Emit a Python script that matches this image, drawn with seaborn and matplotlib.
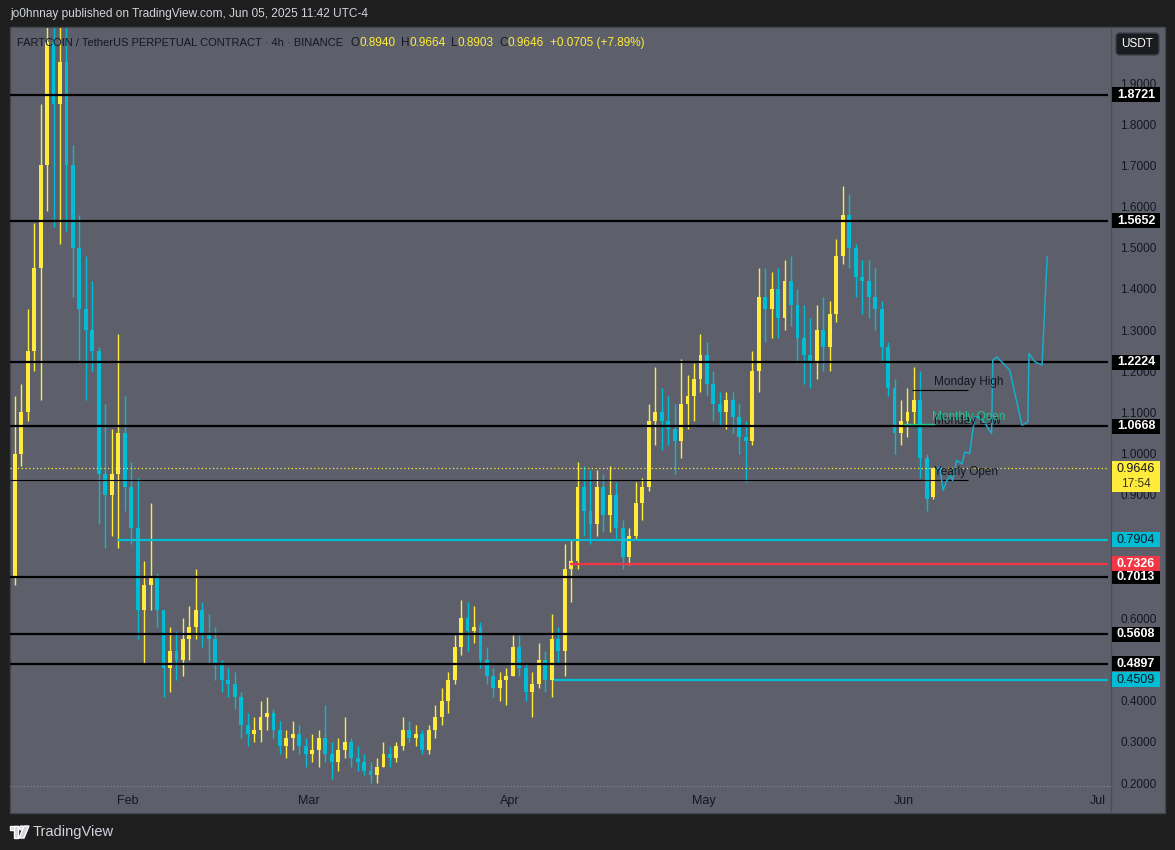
import numpy as np
import pandas as pd
import matplotlib
matplotlib.use("Agg")
import matplotlib.pyplot as plt
import matplotlib.dates as mdates
from matplotlib.patches import Rectangle, FancyBboxPatch, Circle, Polygon
import seaborn as sns

# daily candles, starting 2025-01-14
start = "2025-01-14"
opens = [
    0.70, 1.00, 1.10, 1.25, 1.45, 1.70, 2.00, 1.85, 1.95, 1.70,
    1.50, 1.35, 1.30, 1.25, 0.95, 0.90, 0.95, 1.05, 0.92, 0.82,
    0.62, 0.68, 0.70, 0.62, 0.48, 0.52, 0.50, 0.55, 0.58, 0.62,
    0.56, 0.55, 0.49, 0.45, 0.44, 0.41, 0.34, 0.32, 0.33, 0.36,
    0.37, 0.33, 0.29, 0.31, 0.32, 0.29, 0.27, 0.28, 0.31, 0.27,
    0.25, 0.28, 0.30, 0.26, 0.25, 0.23, 0.22, 0.24, 0.27, 0.26,
    0.29, 0.33, 0.31, 0.32, 0.28, 0.33, 0.36, 0.40, 0.45, 0.53,
    0.60, 0.57, 0.58, 0.50, 0.46, 0.43, 0.45, 0.46, 0.53, 0.48,
    0.42, 0.44, 0.50, 0.45, 0.55, 0.52, 0.72, 0.74, 0.92, 0.86,
    0.83, 0.92, 0.85, 0.90, 0.82, 0.75, 0.80, 0.88, 0.92, 1.08,
    1.10, 1.08, 1.06, 1.03, 1.12, 1.14, 1.18, 1.24, 1.17, 1.12,
    1.10, 1.13, 1.09, 1.04, 1.03, 1.20, 1.38, 1.35, 1.40, 1.33,
    1.42, 1.36, 1.28, 1.24, 1.22, 1.30, 1.26, 1.34, 1.48, 1.58,
    1.50, 1.43, 1.42, 1.38, 1.35, 1.26, 1.16, 1.05, 1.08, 1.10,
    1.13, 0.99, 0.894,
]
highs = [
    1.14, 1.17, 1.35, 1.56, 1.85, 2.30, 2.45, 2.20, 2.10, 1.75,
    1.58, 1.48, 1.42, 1.26, 1.12, 1.06, 1.29, 1.14, 0.98, 0.94,
    0.74, 0.88, 0.71, 0.62, 0.58, 0.57, 0.60, 0.63, 0.72, 0.64,
    0.61, 0.58, 0.50, 0.48, 0.47, 0.42, 0.37, 0.36, 0.40, 0.41,
    0.38, 0.35, 0.33, 0.35, 0.34, 0.31, 0.32, 0.33, 0.39, 0.30,
    0.31, 0.36, 0.31, 0.29, 0.27, 0.25, 0.26, 0.30, 0.29, 0.30,
    0.36, 0.35, 0.34, 0.33, 0.34, 0.39, 0.43, 0.47, 0.56, 0.645,
    0.64, 0.63, 0.59, 0.53, 0.48, 0.47, 0.48, 0.56, 0.56, 0.49,
    0.47, 0.54, 0.52, 0.61, 0.58, 0.78, 0.79, 0.98, 0.97, 0.96,
    0.96, 0.95, 0.97, 0.93, 0.84, 0.82, 0.93, 0.94, 1.12, 1.21,
    1.16, 1.14, 1.12, 1.23, 1.19, 1.22, 1.29, 1.27, 1.20, 1.15,
    1.15, 1.15, 1.12, 1.08, 1.25, 1.45, 1.45, 1.44, 1.45, 1.47,
    1.48, 1.40, 1.36, 1.33, 1.36, 1.38, 1.37, 1.52, 1.65, 1.63,
    1.51, 1.47, 1.47, 1.45, 1.37, 1.27, 1.18, 1.13, 1.16, 1.21,
    1.20, 1.00, 0.9664,
]
lows = [
    0.68, 0.97, 1.08, 1.20, 1.13, 1.59, 1.55, 1.51, 1.54, 1.38,
    1.22, 1.13, 1.20, 0.83, 0.77, 0.80, 0.77, 0.86, 0.78, 0.55,
    0.49, 0.62, 0.58, 0.41, 0.42, 0.45, 0.46, 0.50, 0.55, 0.53,
    0.49, 0.45, 0.42, 0.41, 0.38, 0.31, 0.29, 0.30, 0.30, 0.33,
    0.31, 0.27, 0.26, 0.28, 0.27, 0.24, 0.25, 0.24, 0.25, 0.21,
    0.23, 0.26, 0.24, 0.23, 0.22, 0.20, 0.20, 0.24, 0.24, 0.25,
    0.28, 0.30, 0.29, 0.27, 0.27, 0.31, 0.34, 0.37, 0.44, 0.51,
    0.52, 0.54, 0.48, 0.44, 0.41, 0.40, 0.39, 0.46, 0.46, 0.40,
    0.36, 0.43, 0.42, 0.41, 0.49, 0.46, 0.64, 0.72, 0.80, 0.78,
    0.80, 0.81, 0.81, 0.79, 0.72, 0.73, 0.79, 0.84, 0.91, 1.02,
    1.01, 1.02, 0.95, 0.99, 1.06, 1.08, 1.15, 1.14, 1.08, 1.07,
    1.06, 1.05, 1.00, 0.93, 1.02, 1.15, 1.27, 1.28, 1.28, 1.30,
    1.31, 1.22, 1.17, 1.16, 1.18, 1.20, 1.20, 1.32, 1.46, 1.45,
    1.38, 1.34, 1.33, 1.30, 1.22, 1.14, 1.00, 1.02, 1.04, 1.07,
    0.94, 0.86, 0.8903,
]
closes = [
    1.00, 1.10, 1.25, 1.45, 1.70, 2.00, 1.85, 1.95, 1.70, 1.50,
    1.35, 1.30, 1.25, 0.95, 0.90, 0.95, 1.05, 0.92, 0.82, 0.62,
    0.68, 0.70, 0.62, 0.48, 0.52, 0.50, 0.55, 0.58, 0.62, 0.56,
    0.55, 0.49, 0.45, 0.44, 0.41, 0.34, 0.32, 0.33, 0.36, 0.37,
    0.33, 0.29, 0.31, 0.32, 0.29, 0.27, 0.28, 0.31, 0.27, 0.25,
    0.28, 0.30, 0.26, 0.25, 0.23, 0.22, 0.24, 0.27, 0.26, 0.29,
    0.33, 0.31, 0.32, 0.28, 0.33, 0.36, 0.40, 0.45, 0.53, 0.60,
    0.57, 0.58, 0.50, 0.46, 0.43, 0.45, 0.46, 0.53, 0.48, 0.42,
    0.44, 0.50, 0.45, 0.55, 0.52, 0.72, 0.74, 0.92, 0.86, 0.83,
    0.92, 0.85, 0.90, 0.82, 0.75, 0.80, 0.88, 0.92, 1.08, 1.10,
    1.08, 1.06, 1.03, 1.12, 1.14, 1.18, 1.24, 1.17, 1.12, 1.10,
    1.13, 1.09, 1.04, 1.03, 1.20, 1.38, 1.35, 1.40, 1.33, 1.42,
    1.36, 1.28, 1.24, 1.22, 1.30, 1.26, 1.34, 1.48, 1.58, 1.50,
    1.43, 1.42, 1.38, 1.35, 1.26, 1.16, 1.05, 1.08, 1.10, 1.13,
    0.99, 0.89, 0.9646,
]

# hand-drawn projection path (days after start, price)
forecast_days = [142.9, 143.5, 144.0, 144.6, 145.1, 145.5, 146.1, 146.9, 147.4, 148.1,
                 148.9, 149.7, 150.5, 151.5, 151.7, 152.3, 154.3, 156.2, 157.1, 157.3,
                 158.2, 159.3, 160.1]
forecast_prices = [0.959, 0.968, 0.911, 0.935, 0.947, 0.935, 0.984, 0.975, 1.004, 1.000,
                   1.089, 1.089, 1.073, 1.049, 1.227, 1.235, 1.203, 1.069, 1.077, 1.243,
                   1.223, 1.215, 1.478]

black_levels = [1.8721, 1.5652, 1.2224, 1.0668, 0.7013, 0.5608, 0.4897]
cyan_levels = [0.7904, 0.4509]
cyan_starts = ["2025-01-30 12:00", "2025-04-07 19:00"]
red_level = 0.7326
red_start = "2025-04-10 08:00"
last_price = 0.9646
countdown = "17:54"
yearly_open = 0.936
monday_high = 1.154
monday_low = 1.066
monthly_open = 1.072
# scale labels that are not hidden behind price badges
price_ticks = [0.2, 0.3, 0.4, 0.6, 0.9, 1.0, 1.1, 1.2, 1.3, 1.4, 1.5, 1.6, 1.7, 1.8, 1.9]
month_ticks = ["2025-02-01", "2025-03-01", "2025-04-01", "2025-05-01", "2025-06-01", "2025-07-01"]
ohlc_legend = [("O", "0.8940"), ("H", "0.9664"), ("L", "0.8903"), ("C", "0.9646")]
change_text = "+0.0705 (+7.89%)"

BG_DARK = "#1e1e1e"
PANEL = "#5d606b"
UP = "#ffeb3b"
DOWN = "#00bcd4"
RED = "#f23645"
GREEN = "#22c38e"
INK = "#131722"
LIGHT = "#d1d4dc"
W, H = 1175, 850

sns.set_style("dark")
plt.rcParams["font.family"] = ["Liberation Sans", "DejaVu Sans"]

fig = plt.figure(figsize=(W / 100, H / 100), dpi=100, facecolor=BG_DARK)

# background panel in pixel coordinates
bg = fig.add_axes([0, 0, 1, 1], zorder=-1)
bg.set_xlim(0, W)
bg.set_ylim(H, 0)
bg.axis("off")
bg.add_patch(Rectangle((10, 27), 1155, 786, facecolor=PANEL, edgecolor="#45474f", lw=1))
bg.plot([1111, 1111], [27, 813], color="#4b4d56", lw=1)
bg.plot([10, 1111], [786, 786], color="#8c8f99", lw=0.8, ls=(0, (1, 2)))

# main price axes
ax = fig.add_axes([10 / W, 1 - 787 / H, 1098 / W, (787 - 28) / H], zorder=1)
ax.set_facecolor("none")
for s in ax.spines.values():
    s.set_visible(False)
ax.grid(False)

t0 = pd.Timestamp(start)
centers = pd.date_range(start, periods=len(closes), freq="D") + pd.Timedelta(hours=12)
cols = [UP if c >= o else DOWN for o, c in zip(opens, closes)]
ax.vlines(centers, lows, highs, colors=cols, lw=1.0, zorder=3)
ax.bar(centers, np.array(closes) - np.array(opens), bottom=opens, width=0.6,
       color=cols, linewidth=0, zorder=3)

x_left = t0 - pd.Timedelta(hours=5.5)
x_right = t0 + pd.Timedelta(days=169.5)
ax.set_xlim(x_left, x_right)
ax.set_ylim(0.1904, 2.0336)

ax.hlines(black_levels, x_left, x_right, color="black", lw=1.6, zorder=4)
for lvl, st in zip(cyan_levels, cyan_starts):
    ax.hlines(lvl, pd.Timestamp(st), x_right, color=DOWN, lw=1.6, zorder=4)
ax.hlines(red_level, pd.Timestamp(red_start), x_right, color=RED, lw=1.6, zorder=4)
ax.hlines(last_price, x_left, x_right, color=UP, lw=0.9, ls=(0, (1, 2)), zorder=4)

lbl_end = pd.Timestamp("2025-06-10 19:00")
ax.hlines(yearly_open, x_left, lbl_end, color="black", lw=0.8, zorder=4)
ax.hlines([monday_high, monday_low], pd.Timestamp("2025-06-02 05:00"), lbl_end,
          color="black", lw=0.8, zorder=4)
ax.hlines(monthly_open, pd.Timestamp("2025-05-31 20:00"), pd.Timestamp("2025-06-05 20:00"),
          color=GREEN, lw=1.0, zorder=4)

fc = pd.DataFrame({
    "time": t0 + pd.to_timedelta(forecast_days, unit="D"),
    "price": forecast_prices,
})
sns.lineplot(data=fc, x="time", y="price", ax=ax, color="#1aaccb", lw=1.1,
             sort=False, estimator=None, zorder=5)
ax.set_xlabel("")
ax.set_ylabel("")

ax.yaxis.tick_right()
ax.set_yticks(price_ticks)
ax.yaxis.set_major_formatter(matplotlib.ticker.FormatStrFormatter("%.4f"))
ax.tick_params(axis="y", length=0, pad=9, labelsize=8.5, labelcolor=INK)
ax.set_xticks(pd.to_datetime(month_ticks))
ax.xaxis.set_major_formatter(mdates.DateFormatter("%b"))
ax.tick_params(axis="x", length=0, pad=6, labelsize=9, labelcolor=INK)

# overlay for labels and badges
ov = fig.add_axes([0, 0, 1, 1], zorder=10)
ov.set_xlim(0, W)
ov.set_ylim(H, 0)
ov.axis("off")
ov.patch.set_alpha(0)


def to_px(xval, price):
    dx, dy = ax.transData.transform((mdates.date2num(pd.Timestamp(xval)), price))
    return dx, H - dy


def badge(price, text, face, ink, bold=True):
    _, y = to_px(x_left, price)
    ov.add_patch(Rectangle((1112, y - 7.5), 48, 15, facecolor=face, edgecolor="none"))
    ov.text(1136, y, text, ha="center", va="center", fontsize=9, color=ink,
            fontweight="bold" if bold else "normal")


for lvl in black_levels:
    badge(lvl, f"{lvl:.4f}", "black", "white")
for lvl in cyan_levels:
    badge(lvl, f"{lvl:.4f}", DOWN, INK, bold=False)
badge(red_level, f"{red_level:.4f}", RED, "white")

_, yp = to_px(x_left, last_price)
ov.add_patch(Rectangle((1112, yp - 7), 48, 31, facecolor=UP, edgecolor="none"))
ov.text(1136, yp + 0.5, f"{last_price:.4f}", ha="center", va="center", fontsize=9, color=INK)
ov.text(1136, yp + 15.5, countdown, ha="center", va="center", fontsize=8.5, color="#3a3520")

# drawing labels
lx = "2025-06-05 14:00"
for price, text, dy in [(monday_high, "Monday High", 8), (monday_low, "Monday Low", 5),
                        (yearly_open, "Yearly Open", 8)]:
    x, y = to_px(lx, price)
    ov.text(x, y - dy, text, ha="left", va="center", fontsize=8.5, color=INK)
x, y = to_px("2025-06-05 08:00", monthly_open)
ov.text(x, y - 7, "Monthly Open", ha="left", va="center", fontsize=8.5, color=GREEN)

# USDT button
ov.add_patch(FancyBboxPatch((1116, 33), 43, 22, boxstyle="round,pad=0,rounding_size=4",
                            facecolor="#1b1c20", edgecolor="#3c3f47", lw=1))
ov.text(1137.5, 44, "USDT", ha="center", va="center", fontsize=8.5, color="white")

# header
ov.text(10, 14, "jo0hnnay published on TradingView.com, Jun 05, 2025 11:42 UTC-4",
        ha="left", va="center", fontsize=8.6, color=LIGHT)

# symbol line, pieces chained by measured width
renderer = fig.canvas.get_renderer()


def chain(x, txt, col, gap, size=8.5):
    t = ov.text(x, 43, txt, ha="left", va="center", fontsize=size, color=col)
    return t.get_window_extent(renderer=renderer).x1 + gap


xcur = chain(17, "FARTCOIN / TetherUS PERPETUAL CONTRACT \u00b7 4h \u00b7 BINANCE", INK, 7, size=8)
for letter, val in ohlc_legend:
    xcur = chain(xcur, letter, INK, 0.5)
    xcur = chain(xcur, val, UP, 5)
chain(xcur + 1, change_text, UP, 0)

# TradingView footer
ov.add_patch(Rectangle((10, 826), 8, 4, facecolor=LIGHT))
ov.add_patch(Rectangle((14, 826), 4, 12, facecolor=LIGHT))
ov.add_patch(Circle((21.5, 828), 2, facecolor=LIGHT))
ov.add_patch(Polygon([(24, 826), (29, 826), (24, 838), (19, 838)], closed=True, facecolor=LIGHT))
ov.text(33, 832, "TradingView", ha="left", va="center", fontsize=10.5, color=LIGHT)

fig.savefig("out.png", dpi=100, facecolor=BG_DARK)
